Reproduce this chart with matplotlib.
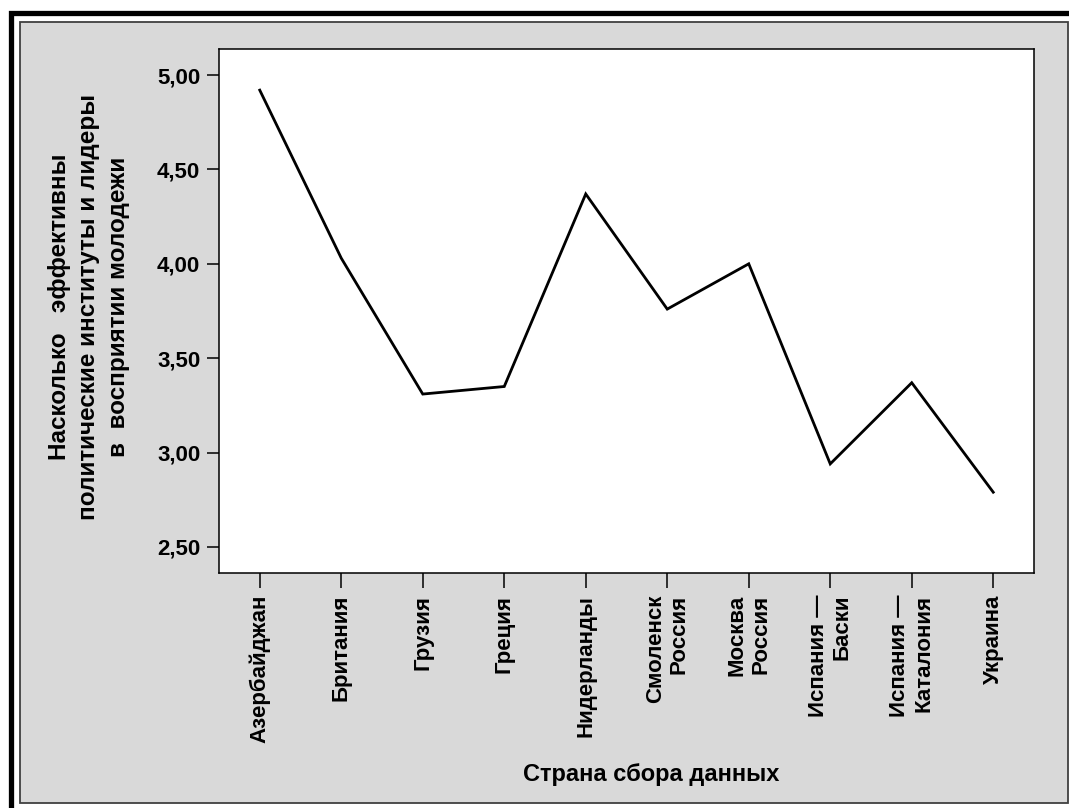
import matplotlib
matplotlib.use("Agg")
import matplotlib.pyplot as plt
from matplotlib.patches import Rectangle

plt.rcParams['font.family'] = ['Liberation Sans', 'DejaVu Sans']
plt.rcParams['font.weight'] = 'bold'

countries = ["Азербайджан", "Британия", "Грузия", "Греция", "Нидерланды",
             "Смоленск\nРоссия", "Москва\nРоссия", "Испания —\nБаски",
             "Испания —\nКаталония", "Украина"]
values = [4.92, 4.03, 3.31, 3.35, 4.37, 3.76, 4.00, 2.94, 3.37, 2.79]
yticks = [2.5, 3.0, 3.5, 4.0, 4.5, 5.0]
ytick_labels = ["2,50", "3,00", "3,50", "4,00", "4,50", "5,00"]

W, H = 1069, 808
fig = plt.figure(figsize=(W / 100, H / 100), dpi=100, facecolor="white")

# outer black frame (cut off at right and bottom) and grey panel
fig.patches.append(Rectangle((10.8 / W, -0.1), 1.2, 1 - 13.3 / H + 0.1,
                             transform=fig.transFigure, fill=False,
                             edgecolor="black", linewidth=3.8, zorder=-2))
fig.patches.append(Rectangle((20 / W, 1 - 803 / H), (1067.5 - 20) / W, (803 - 22) / H,
                             transform=fig.transFigure, facecolor="#d9d9d9",
                             edgecolor="#404040", linewidth=1.3, zorder=-1))

ax = fig.add_axes([219 / W, 1 - 573 / H, (1034 - 219) / W, (573 - 49) / H])
ax.set_facecolor("white")
x = list(range(len(countries)))
ax.plot(x, values, color="black", linewidth=2.0, solid_joinstyle="miter")

ax.set_xlim(-0.5, 9.5)
ax.set_ylim(2.362, 5.138)
ax.set_yticks(yticks)
ax.set_yticklabels(ytick_labels, fontsize=16, fontweight="bold")
ax.set_xticks(x)
ax.set_xticklabels(countries, rotation=90, fontsize=16, fontweight="bold",
                   va="top", ha="center", multialignment="right")
for s in ax.spines.values():
    s.set_linewidth(1.1)
ax.tick_params(axis="y", length=8.5, width=1.1, pad=5)
ax.tick_params(axis="x", length=10.8, width=1.1, pad=5)

fig.text(651 / W, 1 - 775 / H, "Страна сбора данных", ha="center", va="center",
         fontsize=17, fontweight="bold")
fig.text(89 / W, 1 - 307 / H,
         "Насколько   эффективны\nполитические институты и лидеры\nв  восприятии молодежи",
         rotation=90, ha="center", va="center", multialignment="center",
         fontsize=17.5, fontweight="bold", linespacing=1.38)

fig.savefig("out.png", dpi=100, facecolor="white")
